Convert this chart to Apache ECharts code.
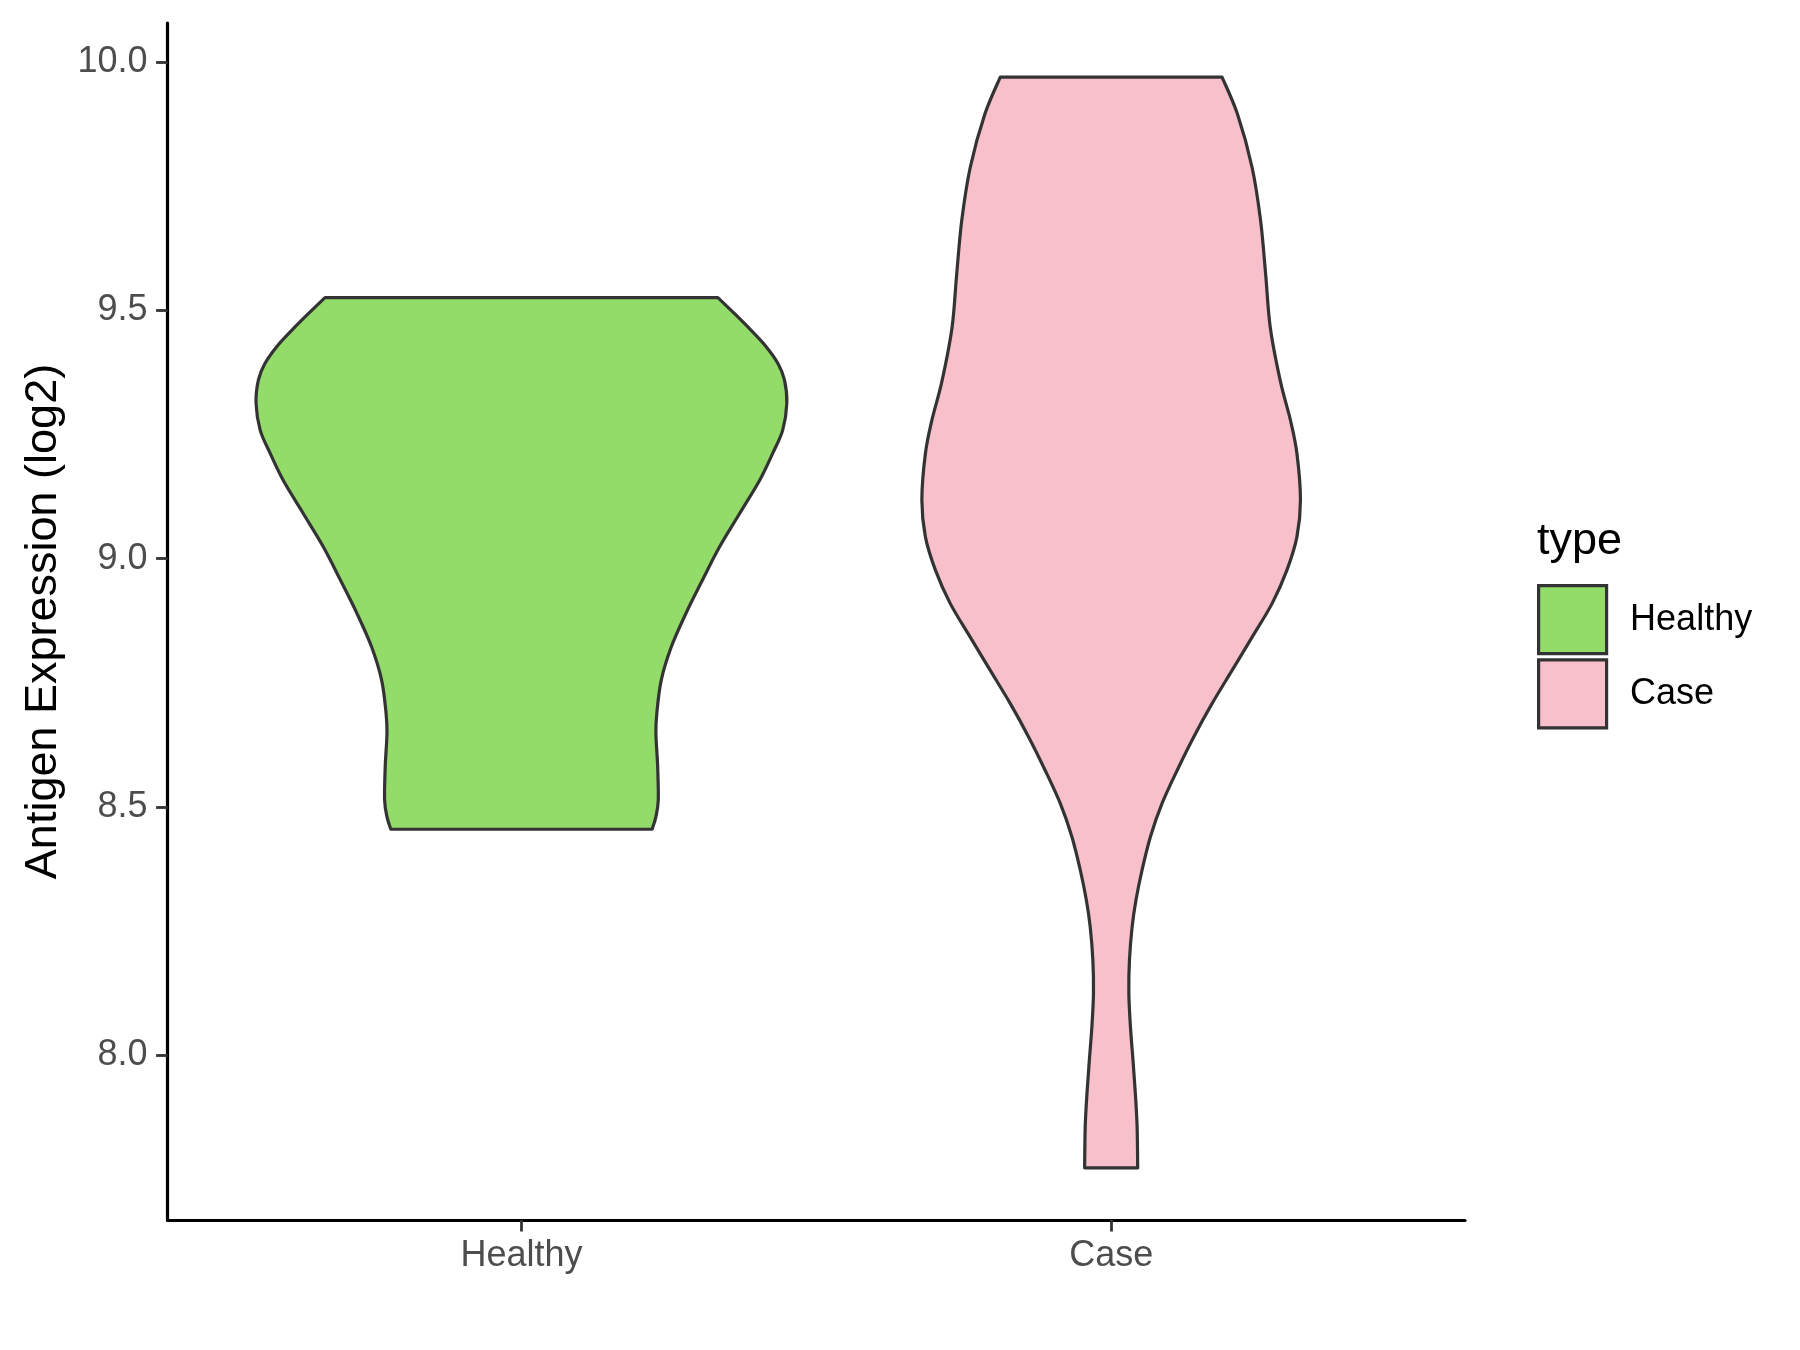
<!DOCTYPE html>
<html>
<head>
<meta charset="utf-8">
<script src="https://cdn.jsdelivr.net/npm/echarts@6/dist/echarts.min.js"></script>
<style>html,body{margin:0;padding:0;background:#fff}#c{width:1800px;height:1350px}</style>
</head>
<body>
<div id="c"></div>
<script>
// ---- data ----
const categories = ['Healthy', 'Case'];
const yTicks = [8.0, 8.5, 9.0, 9.5, 10.0];
// violin outline: expression value (y) and half-width (in category units) at that value
const healthyY = [9.526, 9.494, 9.460, 9.427, 9.393, 9.360, 9.313, 9.259, 9.212, 9.158, 9.091, 9.024, 8.957, 8.890, 8.822, 8.755, 8.688, 8.648, 8.581, 8.514, 8.480, 8.455];
const healthyW = [0.333, 0.361, 0.3895, 0.415, 0.435, 0.446, 0.450, 0.443, 0.426, 0.404, 0.370, 0.336, 0.307, 0.279, 0.254, 0.237, 0.2295, 0.228, 0.231, 0.232, 0.228, 0.2215];
const caseY = [9.970, 9.896, 9.788, 9.680, 9.572, 9.464, 9.357, 9.279, 9.212, 9.118, 9.044, 8.977, 8.910, 8.842, 8.775, 8.708, 8.641, 8.574, 8.507, 8.440, 8.373, 8.312, 8.258, 8.191, 8.124, 8.057, 7.990, 7.923, 7.856, 7.773];
const caseW = [0.188, 0.214, 0.239, 0.2535, 0.262, 0.270, 0.287, 0.304, 0.315, 0.321, 0.315, 0.298, 0.273, 0.239, 0.205, 0.171, 0.140, 0.112, 0.0863, 0.0666, 0.0524, 0.042, 0.0355, 0.031, 0.030, 0.0327, 0.037, 0.041, 0.044, 0.045];
const colors = ['#94DC6A', '#F8C0CB'];

const violins = [
  {ys: healthyY, ws: healthyW},
  {ys: caseY, ws: caseW}
];

function splinePath(pts, moveFirst) {
  let d = (moveFirst ? 'M' : 'L') + pts[0][0] + ' ' + pts[0][1];
  for (let i = 0; i < pts.length - 1; i++) {
    const p0 = pts[Math.max(i - 1, 0)], p1 = pts[i], p2 = pts[i + 1], p3 = pts[Math.min(i + 2, pts.length - 1)];
    const c1 = [p1[0] + (p2[0] - p0[0]) / 6, p1[1] + (p2[1] - p0[1]) / 6];
    const c2 = [p2[0] - (p3[0] - p1[0]) / 6, p2[1] - (p3[1] - p1[1]) / 6];
    d += ' C' + c1[0] + ' ' + c1[1] + ' ' + c2[0] + ' ' + c2[1] + ' ' + p2[0] + ' ' + p2[1];
  }
  return d;
}

function makeRender(idx) {
  return function (params, api) {
    const v = violins[idx];
    const cx = idx + 1;
    const right = v.ys.map((y, i) => api.coord([cx + v.ws[i], y]));
    const left = v.ys.map((y, i) => api.coord([cx - v.ws[i], y])).reverse();
    const d = splinePath(right, true) + ' ' + splinePath(left, false) + ' Z';
    return {
      type: 'path',
      shape: {pathData: d},
      style: {fill: colors[idx], stroke: '#333333', lineWidth: 3.2, lineJoin: 'round'}
    };
  };
}

const chart = echarts.init(document.getElementById('c'), null, {renderer: 'canvas'});
const font = 'Liberation Sans, Arial, sans-serif';
const tickStyle = {fontFamily: font, fontSize: 36, color: '#4D4D4D'};
chart.setOption({
  animation: false,
  backgroundColor: '#ffffff',
  grid: {left: 167.6, right: 335, top: 23, bottom: 130},
  title: {
    text: 'type', left: 1532, top: 514, padding: 5,
    textStyle: {fontFamily: font, fontSize: 45, fontWeight: 'normal', color: '#000'}
  },
  legend: {
    orient: 'vertical', left: 1537, top: 584, padding: 0, itemGap: 3,
    itemWidth: 68, itemHeight: 68, icon: 'rect',
    itemStyle: {borderColor: '#333333', borderWidth: 3.2},
    textStyle: {fontFamily: font, fontSize: 36, color: '#000', padding: [0, 0, 0, 18.5]},
    data: categories
  },
  xAxis: {
    type: 'value', min: 0.4, max: 2.6,
    splitLine: {show: false},
    axisLine: {show: true, lineStyle: {color: '#000', width: 3.2}},
    axisTick: {show: true, length: 11.5, customValues: [1, 2], lineStyle: {color: '#333', width: 2.8}},
    axisLabel: {show: true, margin: 18, customValues: [1, 2], formatter: v => categories[Math.round(v) - 1] || '', ...tickStyle}
  },
  yAxis: {
    type: 'value', min: 7.668, max: 10.079,
    name: 'Antigen Expression (log2)', nameLocation: 'middle', nameRotate: 90, nameGap: 102,
    nameTextStyle: {fontFamily: font, fontSize: 45, color: '#000'},
    splitLine: {show: false},
    axisLine: {show: true, lineStyle: {color: '#000', width: 3.2}},
    axisTick: {show: true, length: 11.5, customValues: yTicks, lineStyle: {color: '#333', width: 2.8}},
    axisLabel: {show: true, margin: 20, customValues: yTicks, formatter: v => v.toFixed(1), ...tickStyle}
  },
  series: categories.map((name, i) => ({
    name: name,
    type: 'custom',
    coordinateSystem: 'cartesian2d',
    itemStyle: {color: colors[i], borderColor: '#333333', borderWidth: 3.2},
    renderItem: makeRender(i),
    data: [[i + 1, violins[i].ys[0]]],
    clip: false
  }))
});
</script>
</body>
</html>
